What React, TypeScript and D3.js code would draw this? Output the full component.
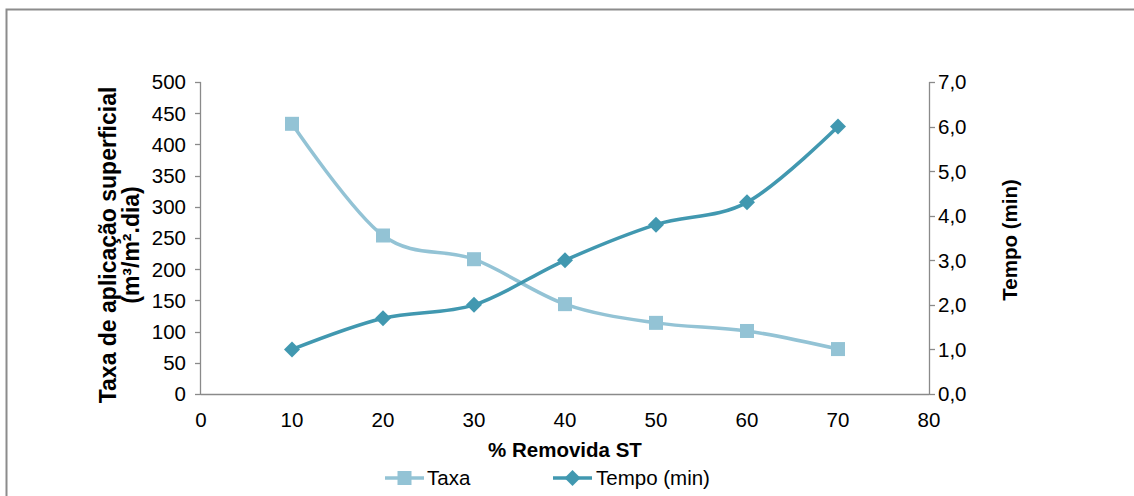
import React from "react";
import * as d3 from "d3";

const categories = [10, 20, 30, 40, 50, 60, 70];
const taxaValues = [433, 254, 216, 144, 114, 101, 72];
const tempoValues = [1.0, 1.7, 2.0, 3.0, 3.8, 4.3, 6.0];
const xTicks = [0, 10, 20, 30, 40, 50, 60, 70, 80];
const leftTicks = [0, 50, 100, 150, 200, 250, 300, 350, 400, 450, 500];
const rightTicks = [0, 1, 2, 3, 4, 5, 6, 7];

const W = 1134;
const H = 496;
const FONT = "'Liberation Sans', Arial, sans-serif";
const C_TAXA = "#93C3D5";
const C_TEMPO = "#4198B0";
const AXIS = "#8A8A8A";
const FS = 20.5;

export default function App() {
  const x = d3.scaleLinear().domain([0, 80]).range([201, 929]);
  const yL = d3.scaleLinear().domain([0, 500]).range([394, 82]);
  const yR = d3.scaleLinear().domain([0, 7]).range([394, 82]);

  const curve = d3.curveCardinal.tension(0);
  const taxaLine = d3
    .line<number>()
    .x((_, i) => x(categories[i]))
    .y((d) => yL(d))
    .curve(curve)(taxaValues);
  const tempoLine = d3
    .line<number>()
    .x((_, i) => x(categories[i]))
    .y((d) => yR(d))
    .curve(curve)(tempoValues);

  const sq = 14;
  const dm = 8;
  const diamond = (cx: number, cy: number) =>
    `M${cx},${cy - dm}L${cx + dm},${cy}L${cx},${cy + dm}L${cx - dm},${cy}Z`;

  return (
    <svg
      width={W}
      height={H}
      style={{ position: "absolute", left: 0, top: 0, background: "#fff" }}
      fontFamily={FONT}
    >
      <rect x={6.5} y={9.5} width={1200} height={600} fill="none" stroke="#8C8C8C" strokeWidth={2} />

      {/* axes */}
      <line x1={201} x2={929} y1={394.5} y2={394.5} stroke={AXIS} strokeWidth={1.3} />
      <line x1={200.5} x2={200.5} y1={82} y2={395} stroke={AXIS} strokeWidth={1.3} />
      <line x1={929.5} x2={929.5} y1={82} y2={395} stroke={AXIS} strokeWidth={1.3} />

      {leftTicks.map((t) => (
        <g key={"l" + t}>
          <line x1={195} x2={201} y1={Math.round(yL(t)) + 0.5} y2={Math.round(yL(t)) + 0.5} stroke={AXIS} strokeWidth={1.3} />
          <text x={186} y={yL(t)} dy="0.36em" textAnchor="end" fontSize={FS} fill="#000">
            {t}
          </text>
        </g>
      ))}
      {rightTicks.map((t) => (
        <g key={"r" + t}>
          <line x1={929} x2={935} y1={Math.round(yR(t)) + 0.5} y2={Math.round(yR(t)) + 0.5} stroke={AXIS} strokeWidth={1.3} />
          <text x={938} y={yR(t)} dy="0.36em" textAnchor="start" fontSize={FS} fill="#000">
            {t.toFixed(1).replace(".", ",")}
          </text>
        </g>
      ))}
      {xTicks.map((t) => (
        <text key={"x" + t} x={x(t)} y={420} dy="0.36em" textAnchor="middle" fontSize={FS} fill="#000">
          {t}
        </text>
      ))}

      {/* axis titles */}
      <text x={565} y={450} dy="0.36em" textAnchor="middle" fontSize={FS} fontWeight="bold">
        % Removida ST
      </text>
      <g transform="translate(119,245) rotate(-90)">
        <text x={0} y={-11.5} dy="0.36em" textAnchor="middle" fontSize={23} fontWeight="bold">
          Taxa de aplicação superficial
        </text>
        <text x={0} y={11.5} dy="0.36em" textAnchor="middle" fontSize={23} fontWeight="bold">
          (m³/m².dia)
        </text>
      </g>
      <text
        transform="translate(1010,240) rotate(-90)"
        dy="0.36em"
        textAnchor="middle"
        fontSize={FS}
        fontWeight="bold"
      >
        Tempo (min)
      </text>

      {/* series */}
      <path d={taxaLine || ""} fill="none" stroke={C_TAXA} strokeWidth={3.5} />
      <path d={tempoLine || ""} fill="none" stroke={C_TEMPO} strokeWidth={3.5} />
      {taxaValues.map((v, i) => (
        <rect
          key={"ts" + i}
          x={x(categories[i]) - sq / 2}
          y={yL(v) - sq / 2}
          width={sq}
          height={sq}
          fill={C_TAXA}
        />
      ))}
      {tempoValues.map((v, i) => (
        <path key={"td" + i} d={diamond(x(categories[i]), yR(v))} fill={C_TEMPO} />
      ))}

      {/* legend */}
      <line x1={385} x2={424} y1={478} y2={478} stroke={C_TAXA} strokeWidth={3.5} />
      <rect x={404.5 - sq / 2} y={478 - sq / 2} width={sq} height={sq} fill={C_TAXA} />
      <text x={427} y={478} dy="0.36em" fontSize={FS}>
        Taxa
      </text>
      <line x1={553} x2={592} y1={478} y2={478} stroke={C_TEMPO} strokeWidth={3.5} />
      <path d={diamond(572.5, 478)} fill={C_TEMPO} />
      <text x={596} y={478} dy="0.36em" fontSize={FS}>
        Tempo (min)
      </text>
    </svg>
  );
}
